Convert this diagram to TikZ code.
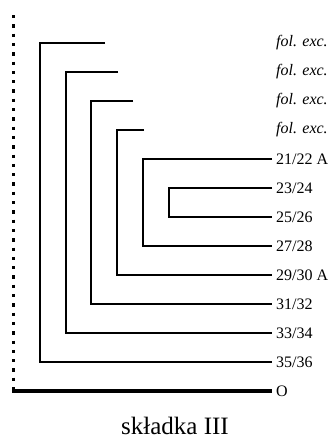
\documentclass[tikz,border=0pt]{standalone}
\usepackage{fontspec}
\setmainfont{Liberation Serif}
\begin{document}
\begin{tikzpicture}[x=1pt,y=-1pt,
		lbl/.style={anchor=west,inner sep=4pt,font=\fontsize{16}{16}\selectfont},
		fol/.style={lbl,font=\fontsize{16}{16}\selectfont\itshape},
		trait/.style={line width=1.2pt}]
		\useasboundingbox (0,0) rectangle (332,440);
		%étiquettes
		\node[fol] (f1) at (272,43) {fol. exc.};
		\node[fol] (f2) at (272,72) {fol. exc.};
		\node[fol] (f3) at (272,101) {fol. exc.};
		\node[fol] (f4) at (272,130) {fol. exc.};
		\node[lbl] (l2122) at (272,159) {21/22 A};
		\node[lbl] (l2324) at (272,188) {23/24};
		\node[lbl] (l2526) at (272,217) {25/26};
		\node[lbl] (l2728) at (272,246) {27/28};
		\node[lbl] (l2930) at (272,275) {29/30 A};
		\node[lbl] (l3132) at (272,304) {31/32};
		\node[lbl] (l3334) at (272,333) {33/34};
		\node[lbl] (l3536) at (272,362) {35/36};
		\node[lbl] (o) at (272,391) {O};
		%feuillets exclus
		\coordinate (e1) at (105,43);
		\coordinate (e2) at (118,72);
		\coordinate (e3) at (133,101);
		\coordinate (e4) at (144,130);
		%Bifolio 1
		\draw[trait] (e1) -| (40,362) -- (l3536.west);
		%Bifolio 2
		\draw[trait] (e2) -| (66,333) -- (l3334.west);
		%Bifolio 3
		\draw[trait] (e3) -| (91,304) -- (l3132.west);
		%Bifolio 4
		\draw[trait] (e4) -| (117,275) -- (l2930.west);
		%Bifolio 5
		\draw[trait] (l2122.west) -| (143,246) -- (l2728.west);
		%Bifolio 6
		\draw[trait] (l2324.west) -| (169,217) -- (l2526.west);
		%Couture
		\draw[line width=3.3pt,dash pattern=on 3.3pt off 6pt] (13.5,15) -- (13.5,389);
		\draw[line width=4pt] (12,391) -- (o.west);
		%Titre
		\node[anchor=base,inner sep=1pt,font=\fontsize{25}{25}\selectfont] (titre) at (175,434) {składka III};
	\end{tikzpicture}
\end{document}
